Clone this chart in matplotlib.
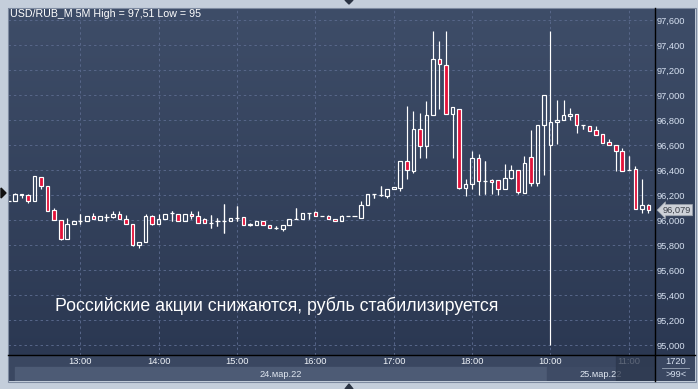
import matplotlib
matplotlib.use("Agg")
import matplotlib.pyplot as plt
import numpy as np
import pandas as pd
from matplotlib.colors import LinearSegmentedColormap
from matplotlib.patches import Rectangle, Polygon
from matplotlib.transforms import blended_transform_factory

plt.rcParams["font.family"] = ["Liberation Sans", "DejaVu Sans"]

W, H = 698, 389

# 5-minute candles: 24 March 12:05 .. 18:55, then 25 March 10:00 .. 11:15
times = list(pd.date_range("2022-03-24 12:05", "2022-03-24 18:55", freq="5min")) + \
        list(pd.date_range("2022-03-25 10:00", "2022-03-25 11:15", freq="5min"))

opens = [96.15, 96.15, 96.21, 96.20, 96.15, 96.34, 96.27, 96.08, 96.00, 95.845,
         95.965, 95.995, 95.995, 96.03, 96.00, 96.025, 96.025, 96.05, 96.01, 95.97,
         95.80, 95.825, 96.03, 95.97, 96.005, 96.055, 96.05, 95.99, 96.05, 96.03,
         96.005, 95.98, 95.99, 95.99, 95.995, 96.02, 96.02, 95.96, 95.962, 95.99,
         95.957, 95.94, 95.93, 95.96, 96.01, 96.01, 96.06, 96.065, 96.03, 96.03,
         96.01, 95.995, 96.03, 96.03, 96.02, 96.12, 96.21, 96.20, 96.19, 96.25,
         96.255, 96.47, 96.39, 96.725, 96.59, 96.84, 97.29, 97.24, 96.85, 96.89,
         96.255, 96.29, 96.50, 96.31, 96.32, 96.32, 96.245, 96.34, 96.40, 96.22,
         96.50, 96.30, 96.76, 96.60, 96.785, 96.80, 96.83, 96.85, 96.76, 96.755,
         96.72, 96.69, 96.625, 96.60, 96.55, 96.40, 96.405, 96.085, 96.12]
highs = [96.15, 96.22, 96.21, 96.21, 96.35, 96.34, 96.27, 96.10, 96.00, 96.02,
         95.99, 96.05, 96.03, 96.06, 96.03, 96.05, 96.07, 96.07, 96.04, 95.97,
         95.825, 96.05, 96.04, 96.05, 96.05, 96.07, 96.05, 96.05, 96.07, 96.07,
         96.02, 96.04, 96.02, 96.13, 96.02, 96.11, 96.02, 95.98, 95.995, 95.99,
         95.957, 95.95, 95.962, 96.005, 96.10, 96.06, 96.06, 96.07, 96.03, 96.04,
         96.01, 96.04, 96.03, 96.03, 96.15, 96.21, 96.21, 96.27, 96.245, 96.265,
         96.47, 96.91, 96.87, 96.86, 96.95, 97.51, 97.43, 97.51, 96.90, 96.89,
         96.33, 96.55, 96.53, 96.475, 96.33, 96.32, 96.45, 96.44, 96.40, 96.51,
         96.72, 96.76, 97.00, 97.51, 96.96, 96.96, 96.90, 96.85, 96.76, 96.755,
         96.75, 96.69, 96.65, 96.60, 96.58, 96.51, 96.43, 96.325, 96.13]
lows = [96.15, 96.15, 96.18, 96.14, 96.15, 96.25, 96.07, 96.00, 95.84, 95.845,
        95.965, 95.97, 95.995, 96.01, 96.00, 95.99, 96.02, 96.005, 95.97, 95.79,
        95.78, 95.825, 95.96, 95.97, 96.005, 95.99, 95.99, 95.99, 96.01, 95.98,
        95.975, 95.94, 95.955, 95.90, 95.995, 95.995, 95.96, 95.95, 95.962, 95.96,
        95.94, 95.93, 95.91, 95.96, 96.01, 96.01, 96.01, 96.03, 96.03, 96.01,
        95.995, 95.995, 96.03, 96.03, 96.02, 96.12, 96.18, 96.19, 96.18, 96.25,
        96.23, 96.33, 96.38, 96.50, 96.50, 96.84, 96.89, 96.85, 96.50, 96.25,
        96.19, 96.245, 96.20, 96.21, 96.21, 96.20, 96.245, 96.33, 96.21, 96.22,
        96.27, 96.27, 96.36, 95.00, 96.61, 96.80, 96.80, 96.70, 96.73, 96.715,
        96.68, 96.62, 96.60, 96.395, 96.395, 96.40, 96.085, 96.06, 96.06]
closes = [96.15, 96.21, 96.20, 96.15, 96.35, 96.27, 96.07, 96.00, 95.845, 95.965,
          95.99, 95.995, 96.03, 96.01, 96.03, 96.025, 96.05, 96.005, 95.97, 95.80,
          95.825, 96.03, 95.97, 96.005, 96.05, 96.055, 95.99, 96.05, 96.03, 95.98,
          95.975, 95.98, 95.99, 95.99, 96.02, 96.02, 95.96, 95.965, 95.995, 95.96,
          95.94, 95.94, 95.962, 96.005, 96.01, 96.06, 96.06, 96.03, 96.03, 96.01,
          95.995, 96.03, 96.03, 96.03, 96.12, 96.21, 96.21, 96.20, 96.245, 96.265,
          96.47, 96.40, 96.725, 96.59, 96.84, 97.29, 97.25, 96.85, 96.90, 96.255,
          96.29, 96.50, 96.31, 96.31, 96.305, 96.245, 96.34, 96.40, 96.225, 96.455,
          96.30, 96.76, 97.00, 96.785, 96.80, 96.84, 96.85, 96.76, 96.76, 96.715,
          96.68, 96.62, 96.60, 96.55, 96.395, 96.40, 96.085, 96.12, 96.079]

price_ticks = [95.0, 95.2, 95.4, 95.6, 95.8, 96.0, 96.2, 96.4, 96.6, 96.8,
               97.0, 97.2, 97.4, 97.6]
date_labels = ["24.мар.22", "25.мар.22"]
title = "USD/RUB_M 5M High = 97,51 Low = 95"
headline = "Российские акции снижаются, рубль стабилизируется"

OUTER = "#c4cedb"
TXT = "#d6e0f0"
RED = "#e3123a"
GRID = "#58678a"
bg_cmap = LinearSegmentedColormap.from_list("bg", ["#3e4d68", "#2b3852"])


def px_rect(x, y, w, h):
    return [x / W, 1 - (y + h) / H, w / W, h / H]


def gradient(ax):
    ax.imshow(np.linspace(0, 1, 256)[:, None], cmap=bg_cmap, aspect="auto",
              extent=[0, 1, 0, 1], transform=ax.transAxes, zorder=0)


fig = plt.figure(figsize=(W / 100, H / 100), dpi=100)
fig.patch.set_facecolor(OUTER)

# right price panel (drawn first so the tick labels sit on top)
ax_r = fig.add_axes(px_rect(655, 8, 40, 347))
gradient(ax_r)
ax_r.axis("off")

ax = fig.add_axes(px_rect(8, 8, 647, 347))
gradient(ax)

n = len(opens)
x = np.arange(n)
o = np.array(opens); c = np.array(closes)
hi = np.array(highs); lo = np.array(lows)
top = np.maximum(o, c); bot = np.minimum(o, c)
doji = np.abs(c - o) < 0.004

# wicks
ax.vlines(x, top, hi, color="white", lw=0.85, zorder=2)
ax.vlines(x, lo, bot, color="white", lw=0.85, zorder=2)
ax.vlines(x[doji], lo[doji], hi[doji], color="white", lw=0.85, zorder=2)

# bodies
body = ~doji
face = [RED if cc < oo else "none" for oo, cc in zip(o[body], c[body])]
ax.bar(x[body], (top - bot)[body], bottom=bot[body], width=0.55,
       color=face, edgecolor="white", linewidth=0.85, zorder=3)
ax.hlines(c[doji], x[doji] - 0.33, x[doji] + 0.33, color="white", lw=0.9, zorder=3)

step = 6.53  # px per candle
x0 = 1 - 7 / step
ax.set_xlim(x0, x0 + 647 / step)
ax.set_ylim(96 - 135 / 125, 96 + 212 / 125)

hour_idx = [i for i, t in enumerate(times) if t.minute == 0]
ax.set_xticks(hour_idx)
ax.set_xticklabels([])
ax.set_yticks(price_ticks)
ax.set_yticklabels([f"{v:.3f}".replace(".", ",") for v in price_ticks])
ax.yaxis.tick_right()
ax.tick_params(axis="both", length=0)
ax.tick_params(axis="y", pad=1.5, labelsize=6.7, labelcolor=TXT)
ax.grid(True, color=GRID, lw=0.7, linestyle=(0, (2.5, 3)))
ax.set_axisbelow(True)
for sp in ax.spines.values():
    sp.set_visible(False)

# last price marker
tr = blended_transform_factory(ax.transAxes, ax.transData)
ax.text(1 + 8 / 647, closes[-1], f"{closes[-1]:.3f}".replace(".", ","),
        transform=tr, ha="left", va="center", fontsize=6.7, color="#3a3f48",
        bbox=dict(boxstyle="larrow,pad=0.12", fc="#cdd1d8", ec="#9ca3ad", lw=0.5),
        clip_on=False, zorder=6)

# time strip under the chart
ax_s = fig.add_axes(px_rect(8, 355, 647, 26))
ax_s.set_facecolor("#3a4761")
ax_s.set_xlim(ax.get_xlim())
ax_s.set_ylim(26, 0)
ax_s.axis("off")
ax_s.add_patch(Rectangle((ax.get_xlim()[0], 0), 647 / step, 26, color="#3a4761", zorder=0))
split = hour_idx[-2] - 0.5
ax_s.add_patch(Rectangle((1 - 0.01, 12), split - 1, 14, color="#4d5b75", zorder=1))
ax_s.add_patch(Rectangle((split, 12), ax.get_xlim()[1] - split, 14, color="#3e4b65", zorder=1))
for i in hour_idx:
    ax_s.text(i, 6.5, times[i].strftime("%H:%M"), ha="center", va="center",
              fontsize=6.7, color="#eef2f8", zorder=3)
ax_s.text((1 + split) / 2, 19.5, date_labels[0], ha="center", va="center",
          fontsize=6.7, color="#dfe6f0", zorder=3)
ax_s.text((split + ax.get_xlim()[1]) / 2, 19.5, date_labels[1], ha="center",
          va="center", fontsize=6.7, color="#dfe6f0", zorder=3)
# dimmed cursor block over the last hour label
ax_s.add_patch(Rectangle((hour_idx[-1] - 1.9, 0), ax.get_xlim()[1] - hour_idx[-1] + 1.9, 26,
                         color="#2c374d", alpha=0.75, zorder=4))

# bottom right corner cell
ax_c = fig.add_axes(px_rect(655, 355, 40, 26))
ax_c.set_facecolor("#3a4761")
ax_c.set_xlim(0, 40); ax_c.set_ylim(26, 0)
ax_c.set_xticks([]); ax_c.set_yticks([])
for sp in ax_c.spines.values():
    sp.set_visible(False)
ax_c.text(21, 6.5, "1720", ha="center", va="center", fontsize=6.7, color=TXT)
ax_c.plot([7, 34], [12.5, 12.5], color="#9aa6b8", lw=0.6)
ax_c.text(21, 19.5, ">99<", ha="center", va="center", fontsize=6.7, color=TXT)

# chrome in pixel coordinates
ov = fig.add_axes([0, 0, 1, 1])
ov.set_xlim(0, W); ov.set_ylim(H, 0)
ov.axis("off")
ov.patch.set_alpha(0)
ov.plot([655, 655], [8, 381], color="black", lw=1.0)
ov.plot([8, 695], [355, 355], color="black", lw=1.0)
ov.add_patch(Rectangle((7.5, 7.5), 688, 374, fill=False, ec="#7d8aa0", lw=0.8))
ov.add_patch(Polygon([[345, 0], [353, 0], [349, 4]], color="#2a3343"))
ov.add_patch(Polygon([[345, 389], [353, 389], [349, 384]], color="#2a3343"))
ov.add_patch(Polygon([[1, 188], [1, 198], [6, 193]], color="#111111"))

ov.text(10, 14, title, ha="left", va="center", fontsize=7.7, color="white")
ov.text(55, 306, headline, ha="left", va="center", fontsize=12.8, color="white")

fig.savefig("out.png", dpi=100, facecolor=fig.get_facecolor())
